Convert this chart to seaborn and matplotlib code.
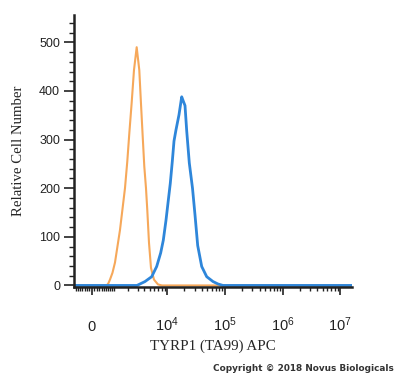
import numpy as np
import pandas as pd
import seaborn as sns
import matplotlib.pyplot as plt

# isotype control (orange) - fluorescence vs count
iso_x = [-780, 400, 621, 698, 782, 912, 1052, 1365, 1732, 1923, 2102, 2335, 2579,
         2892, 3226, 3462, 3715, 3969, 4256, 4488, 4811, 5219, 5894, 6930, 8140, 1.6e7]
iso_y = [0, 0, 0, 4, 12, 26, 47, 114, 200, 255, 312, 376, 443,
         490, 443, 374, 307, 245, 200, 155, 88, 36, 12, 2, 0, 0]

# TYRP1 stained (blue)
tyrp_x = [-780, 2929, 4084, 5370, 6572, 7723, 8576, 9554, 10480, 11350, 12300, 13170,
          14260, 16080, 17920, 19250, 20440, 21880, 24270, 27580, 30470, 33940,
          39820, 48610, 62500, 76300, 93200, 1.6e7]
tyrp_y = [0, 0, 8, 18, 39, 67, 93, 134, 175, 210, 255, 297,
          320, 351, 388, 378, 370, 318, 252, 200, 145, 82,
          39, 18, 8, 3, 0, 0]

major_ticks = [0, 1e4, 1e5, 1e6, 1e7]
major_labels = ["0", r"$\mathregular{10^{4}}$", r"$\mathregular{10^{5}}$",
                r"$\mathregular{10^{6}}$", r"$\mathregular{10^{7}}$"]

C = 1000.0


def fwd(x):
    return np.arcsinh(np.asarray(x, dtype=float) / C) / np.log(10)


def inv(u):
    return C * np.sinh(np.asarray(u, dtype=float) * np.log(10))


sns.set_style("ticks")
plt.rcParams['font.family'] = ['Liberation Sans', 'DejaVu Sans']

fig = plt.figure(figsize=(4.0, 3.78), dpi=100)
ax = fig.add_axes([0.185, 0.241, 0.695, 0.719])

df_iso = pd.DataFrame({"x": iso_x, "count": iso_y})
df_tyrp = pd.DataFrame({"x": tyrp_x, "count": tyrp_y})

ax.set_xscale('function', functions=(fwd, inv))
sns.lineplot(data=df_iso, x="x", y="count", sort=False, color="#F6A85A", lw=1.5, ax=ax)
sns.lineplot(data=df_tyrp, x="x", y="count", sort=False, color="#2E86DA", lw=2.0, ax=ax)

ax.set_xlim(-780, 1.6e7)
ax.set_ylim(-3, 556)

ax.set_xticks(major_ticks)
ax.set_xticklabels(major_labels)
minor = [-k * 100 for k in range(1, 8)] + [k * 100 for k in range(1, 10)]
for d in [1e3, 1e4, 1e5, 1e6]:
    minor += [k * d for k in range(1 if d == 1e3 else 2, 10)]
ax.set_xticks(minor, minor=True)

ax.set_yticks(range(0, 501, 100))
ax.set_yticks(range(0, 556, 20), minor=True)

sns.despine(ax=ax)
for s in ["left", "bottom"]:
    ax.spines[s].set_linewidth(1.8)
    ax.spines[s].set_color("#222222")

ax.tick_params(axis="y", which="major", length=7, width=1.2, labelsize=9, pad=3, colors="#222222")
ax.tick_params(axis="y", which="minor", length=3.5, width=1.0, colors="#222222")
ax.tick_params(axis="x", which="major", length=6, width=1.2, labelsize=10.5, pad=26, colors="#222222")
ax.tick_params(axis="x", which="minor", length=3, width=1.0, colors="#222222")
for lab in ax.get_xticklabels():
    lab.set_va("baseline")

ax.set_xlabel("TYRP1 (TA99) APC", family="Liberation Serif", fontsize=10.8, labelpad=4)
ax.set_ylabel("Relative Cell Number", family="Liberation Serif", fontsize=10.6, labelpad=10)

fig.text(0.985, 0.012, "Copyright \u00a9 2018 Novus Biologicals", ha="right", va="bottom",
         fontsize=6.4, fontweight="bold", color="#333333", family="DejaVu Sans")

fig.savefig("out.png", dpi=100, facecolor="white")
